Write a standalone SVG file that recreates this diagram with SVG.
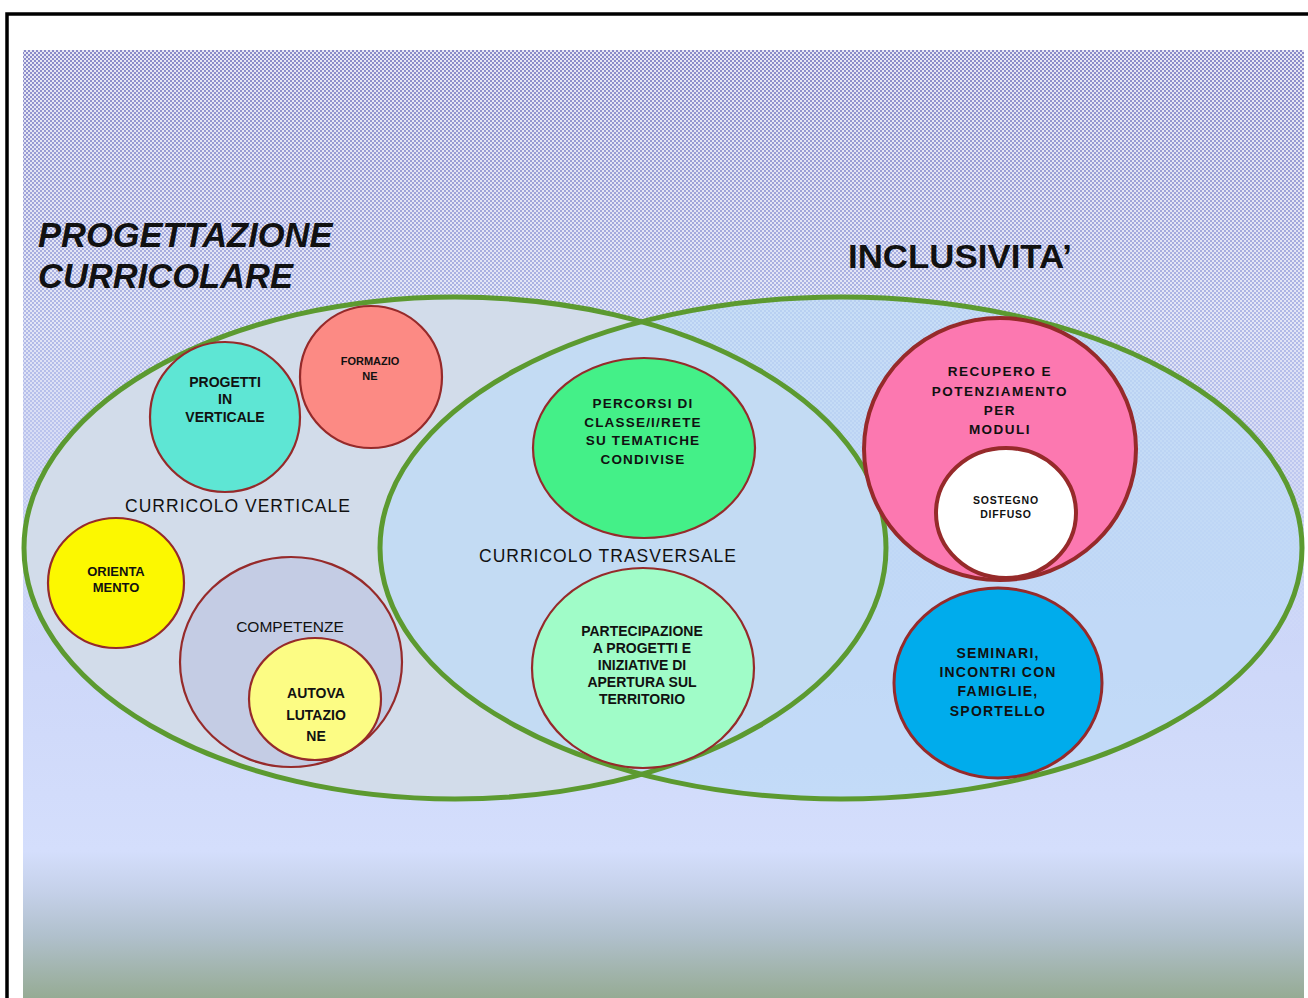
<svg xmlns="http://www.w3.org/2000/svg" width="1308" height="998" viewBox="0 0 1308 998">
<defs>
<linearGradient id="bg" x1="0" y1="50" x2="0" y2="998" gradientUnits="userSpaceOnUse">
<stop offset="0" stop-color="#8a8ac8"/>
<stop offset="0.28" stop-color="#b0b8e6"/>
<stop offset="0.6" stop-color="#ccd6f8"/>
<stop offset="0.845" stop-color="#d4defc"/>
<stop offset="0.89" stop-color="#c4d0e8"/>
<stop offset="0.935" stop-color="#b0c0cc"/>
<stop offset="1" stop-color="#96ab94"/>
</linearGradient>
<pattern id="dots" width="4" height="4" patternUnits="userSpaceOnUse">
<rect x="0" y="0" width="2" height="2" fill="#ffffff"/>
<rect x="2" y="2" width="2" height="2" fill="#ffffff"/>
</pattern>
<linearGradient id="fade" x1="0" y1="50" x2="0" y2="650" gradientUnits="userSpaceOnUse">
<stop offset="0" stop-color="#fff" stop-opacity="0.8"/>
<stop offset="0.45" stop-color="#fff" stop-opacity="0.65"/>
<stop offset="1" stop-color="#fff" stop-opacity="0"/>
</linearGradient>
<mask id="m">
<rect x="0" y="0" width="1308" height="998" fill="url(#fade)"/>
</mask>
<style>
.ven{stroke:#5c9a30;stroke-width:5}
.c{stroke:#962a2a;stroke-width:2.2}
.t{font-family:"Liberation Sans",Arial,sans-serif;font-weight:bold;fill:#111;text-anchor:middle}
.lbl{font-family:"Liberation Sans",Arial,sans-serif;fill:#111;text-anchor:middle;letter-spacing:1px}
.ttl{font-family:"Liberation Sans",Arial,sans-serif;font-weight:bold;fill:#111}
</style>
</defs>
<rect width="1308" height="998" fill="#fff"/>
<rect x="23" y="50" width="1281" height="948" fill="url(#bg)"/>
<rect x="23" y="50" width="1281" height="948" fill="url(#dots)" mask="url(#m)"/>
<path d="M7 998 V14 H1308" fill="none" stroke="#000" stroke-width="3.5"/>

<g id="title-left">
<text class="ttl" x="38" y="247" font-style="italic" font-size="34.5">PROGETTAZIONE</text>
<text class="ttl" x="38" y="288" font-style="italic" font-size="34.5">CURRICOLARE</text>
</g>
<g id="title-right">
<text class="ttl" x="848" y="268" font-size="33" textLength="224" lengthAdjust="spacingAndGlyphs">INCLUSIVITA’</text>
</g>

<g id="ellipse-left">
<ellipse cx="455" cy="548" rx="431" ry="251" fill="#d2dcea"/>
</g>
<g id="ellipse-right">
<ellipse cx="841" cy="548" rx="461" ry="251" fill="#bcdaf6" fill-opacity="0.7"/>
</g>
<g id="venn-outlines">
<ellipse class="ven" cx="455" cy="548" rx="431" ry="251" fill="none"/>
<ellipse class="ven" cx="841" cy="548" rx="461" ry="251" fill="none"/>
</g>

<g id="lbl-vert"><text class="lbl" x="238" y="512" font-size="17.5">CURRICOLO VERTICALE</text></g>
<g id="lbl-trasv"><text class="lbl" x="608" y="562" font-size="17.5">CURRICOLO TRASVERSALE</text></g>

<g id="progetti">
<circle class="c" cx="225" cy="417" r="75" fill="#5ee6d4"/>
<text class="t" font-size="14"><tspan x="225" y="387">PROGETTI</tspan><tspan x="225" y="404">IN</tspan><tspan x="225" y="422">VERTICALE</tspan></text>
</g>
<g id="formazione">
<circle class="c" cx="371" cy="377" r="71" fill="#fc8a84"/>
<text class="t" font-size="11"><tspan x="370" y="365">FORMAZIO</tspan><tspan x="370" y="380">NE</tspan></text>
</g>
<g id="orientamento">
<ellipse class="c" cx="116" cy="583" rx="68" ry="65" fill="#fcf800"/>
<text class="t" font-size="13"><tspan x="116" y="576">ORIENTA</tspan><tspan x="116" y="592">MENTO</tspan></text>
</g>
<g id="competenze">
<ellipse class="c" cx="291" cy="662" rx="111" ry="105" fill="#c4cce4"/>
<text class="t" font-size="15.5" style="font-weight:normal" x="290" y="632">COMPETENZE</text>
</g>
<g id="autovalutazione">
<ellipse class="c" cx="315" cy="699" rx="66" ry="61" fill="#fcfc84"/>
<text class="t" font-size="14"><tspan x="316" y="698">AUTOVA</tspan><tspan x="316" y="720">LUTAZIO</tspan><tspan x="316" y="741">NE</tspan></text>
</g>
<g id="percorsi">
<ellipse class="c" cx="644" cy="448" rx="111" ry="90" fill="#44f088"/>
<text class="t" font-size="13.5" letter-spacing="1.2"><tspan x="643" y="408">PERCORSI DI</tspan><tspan x="643" y="427">CLASSE/I/RETE</tspan><tspan x="643" y="445">SU TEMATICHE</tspan><tspan x="643" y="464">CONDIVISE</tspan></text>
</g>
<g id="partecipazione">
<ellipse class="c" cx="643" cy="668" rx="111" ry="100" fill="#a0fcc8"/>
<text class="t" font-size="14"><tspan x="642" y="636">PARTECIPAZIONE</tspan><tspan x="642" y="653">A PROGETTI E</tspan><tspan x="642" y="670">INIZIATIVE DI</tspan><tspan x="642" y="687">APERTURA SUL</tspan><tspan x="642" y="704">TERRITORIO</tspan></text>
</g>
<g id="recupero">
<ellipse cx="1000" cy="449" rx="136" ry="131" fill="#fc78b0" stroke="#962a2a" stroke-width="4"/>
<text class="t" font-size="13.5" letter-spacing="1.5"><tspan x="1000" y="376">RECUPERO E</tspan><tspan x="1000" y="396">POTENZIAMENTO</tspan><tspan x="1000" y="415">PER</tspan><tspan x="1000" y="434">MODULI</tspan></text>
</g>
<g id="sostegno">
<ellipse cx="1006" cy="513" rx="70" ry="65" fill="#ffffff" stroke="#962a2a" stroke-width="4"/>
<text class="t" font-size="10.5" letter-spacing="0.8"><tspan x="1006" y="504">SOSTEGNO</tspan><tspan x="1006" y="518">DIFFUSO</tspan></text>
</g>
<g id="seminari">
<ellipse cx="998" cy="683" rx="104" ry="95" fill="#00acec" stroke="#962a2a" stroke-width="3"/>
<text class="t" font-size="14" letter-spacing="1.2"><tspan x="998" y="658">SEMINARI,</tspan><tspan x="998" y="677">INCONTRI CON</tspan><tspan x="998" y="696">FAMIGLIE,</tspan><tspan x="998" y="716">SPORTELLO</tspan></text>
</g>
</svg>
